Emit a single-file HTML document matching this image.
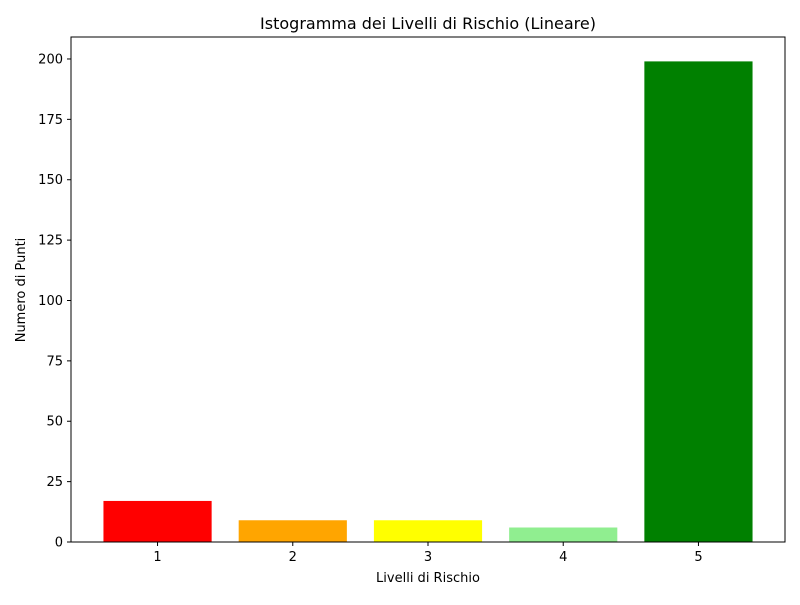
<!DOCTYPE html>
<html><head><meta charset="utf-8"><style>
body{margin:0;background:#fff;}
svg text{font-family:"DejaVu Sans","Liberation Sans",sans-serif;fill:#000;}
</style></head><body>
<svg id="chart" width="800" height="600" xmlns="http://www.w3.org/2000/svg">
<rect width="800" height="600" fill="#fff"/>
<text x="428" y="29" font-size="16" text-anchor="middle">Istogramma dei Livelli di Rischio (Lineare)</text>
<g id="bars"></g>
<g id="axes"></g>
<text x="428" y="582" font-size="13" text-anchor="middle">Livelli di Rischio</text>
<text transform="translate(25,290) rotate(-90)" font-size="13" text-anchor="middle">Numero di Punti</text>
</svg>
<script>
const categories = [1, 2, 3, 4, 5];
const values = [17, 9, 9, 6, 199];
const colors = ["red", "orange", "yellow", "lightgreen", "green"];
const yTicks = [0, 25, 50, 75, 100, 125, 150, 175, 200];

const L = 71, R = 785, T = 37, B = 542;
const xMin = 0.36, xMax = 5.64, yMin = 0, yMax = 209.1;
const xs = v => L + (v - xMin) / (xMax - xMin) * (R - L);
const ys = v => B - (v - yMin) / (yMax - yMin) * (B - T);
const NS = "http://www.w3.org/2000/svg";
function mk(tag, attrs, parent) {
  const e = document.createElementNS(NS, tag);
  for (const k in attrs) e.setAttribute(k, attrs[k]);
  parent.appendChild(e);
  return e;
}
const bars = document.getElementById("bars");
const axes = document.getElementById("axes");
categories.forEach((c, i) => {
  const x0 = xs(c - 0.4), x1 = xs(c + 0.4);
  const r = mk("rect", {x: x0, y: ys(values[i]), width: x1 - x0, height: ys(0) - ys(values[i]), fill: colors[i]}, bars);
  
  
  mk("line", {x1: xs(c), x2: xs(c), y1: B, y2: B + 4, stroke: "#000", "stroke-width": 1}, axes);
  const t = mk("text", {x: xs(c), y: B + 19, "font-size": 13, "text-anchor": "middle"}, axes);
  t.textContent = c;
  
  
});
yTicks.forEach(v => {
  mk("line", {x1: L - 4, x2: L, y1: ys(v), y2: ys(v), stroke: "#000", "stroke-width": 1}, axes);
  const t = mk("text", {x: L - 8, y: ys(v) + 4.5, "font-size": 13, "text-anchor": "end"}, axes);
  t.textContent = v;
  
  
});
const frame = mk("rect", {x: L, y: T, width: R - L, height: B - T, fill: "none", stroke: "#000", "stroke-width": 1}, axes);


</script>
</body></html>
